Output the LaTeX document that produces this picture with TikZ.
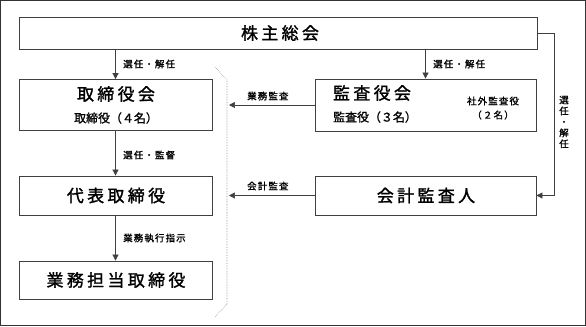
\documentclass[tikz,border=0pt]{standalone}
\usepackage{fontspec}
\setmainfont{Noto Sans CJK JP}[FakeBold=1.2]
\usetikzlibrary{arrows.meta,calc}
\newfontfamily\bigjp[LetterSpace=20,FakeBold=1.5]{Noto Sans CJK JP}
\newfontfamily\smalljp[LetterSpace=12,FakeBold=1.2]{Noto Sans CJK JP}
\tikzset{
  box/.style={draw=black!75, line width=0.8pt, rectangle, inner sep=0pt},
  big/.style={font=\bigjp\fontsize{17}{19}\selectfont, inner sep=0pt},
  mid/.style={font=\fontsize{12}{14}\selectfont, inner sep=0pt},
  lab/.style={font=\smalljp\fontsize{9.5}{11}\selectfont, inner sep=0pt},
  conn/.style={draw=black!75, line width=0.7pt},
  arr/.style={conn, -{Triangle[length=6pt,width=6pt]}},
}
\begin{document}
\begin{tikzpicture}[x=1bp,y=-1bp]
\useasboundingbox (0,0) rectangle (586,326);
\draw[black!80, line width=0.8pt] (0.5,0.5) rectangle (585.5,325.5);
% boxes
\node[box, minimum width=518bp, minimum height=32bp] (kabu) at (278,33) {};
\node[big] (kabut) at (280,33) {株主総会};
\node[box, minimum width=193bp, minimum height=51bp] (tori) at (115.5,105) {};
\node[big] (torit) at (116,94) {取締役会};
\node[mid] (torin) at (116,118) {取締役（４名）};
\node[box, minimum width=193bp, minimum height=39bp] (dai) at (115.5,195.5) {};
\node[big] (dait) at (116,195.5) {代表取締役};
\node[box, minimum width=193bp, minimum height=38bp] (gyo) at (115.5,280) {};
\node[big] (gyot) at (116,280) {業務担当取締役};
\node[box, minimum width=221bp, minimum height=52bp] (kansa) at (425.5,105) {};
\node[big] (kansat) at (372,93) {監査役会};
\node[mid] (kansan) at (375,117) {監査役（３名）};
\node[lab] (shagai) at (493,101) {社外監査役};
\node[lab] (shagain) at (493,115) {（２名）};
\node[box, minimum width=221bp, minimum height=39bp] (kaikei) at (425.5,195.5) {};
\node[big] (kaikeit) at (426,195.5) {会計監査人};
% dotted divider
\coordinate (d1) at (215,67);
\coordinate (d2) at (227,80);
\coordinate (d3) at (227,304);
\coordinate (d4) at (215,317);
\draw[black!45, line width=0.6pt, densely dotted] (d1) -- (d2) -- (d3) -- (d4);
% arrows
\draw[arr] (kabu.south -| tori.north) -- (tori.north);
\node[lab, anchor=west] (l1) at (123,64) {選任・解任};
\draw[arr] (kabu.south -| kansa.north) -- (kansa.north);
\node[lab, anchor=west] (l2) at (433,64) {選任・解任};
\draw[arr] (tori.south) -- (dai.north);
\node[lab, anchor=west] (l3) at (123,155) {選任・監督};
\draw[arr] (dai.south) -- (gyo.north);
\node[lab, anchor=west] (l4) at (123,238) {業務執行指示};
\draw[arr] (kabu.east) -- ++(17,0) |- (kaikei.east);
\node[lab, align=center] (l5) at (564,122) {選\\任\\・\\解\\任};
\coordinate (m1) at (229,105);
\coordinate (m2) at (229,196);
\draw[arr] (kansa.west) -- (kansa.west -| m1);
\node[lab, anchor=west] (l6) at (247,96) {業務監査};
\draw[arr] (kaikei.west) -- (kaikei.west -| m2);
\node[lab, anchor=west] (l7) at (247,186) {会計監査};
\end{tikzpicture}
\end{document}
